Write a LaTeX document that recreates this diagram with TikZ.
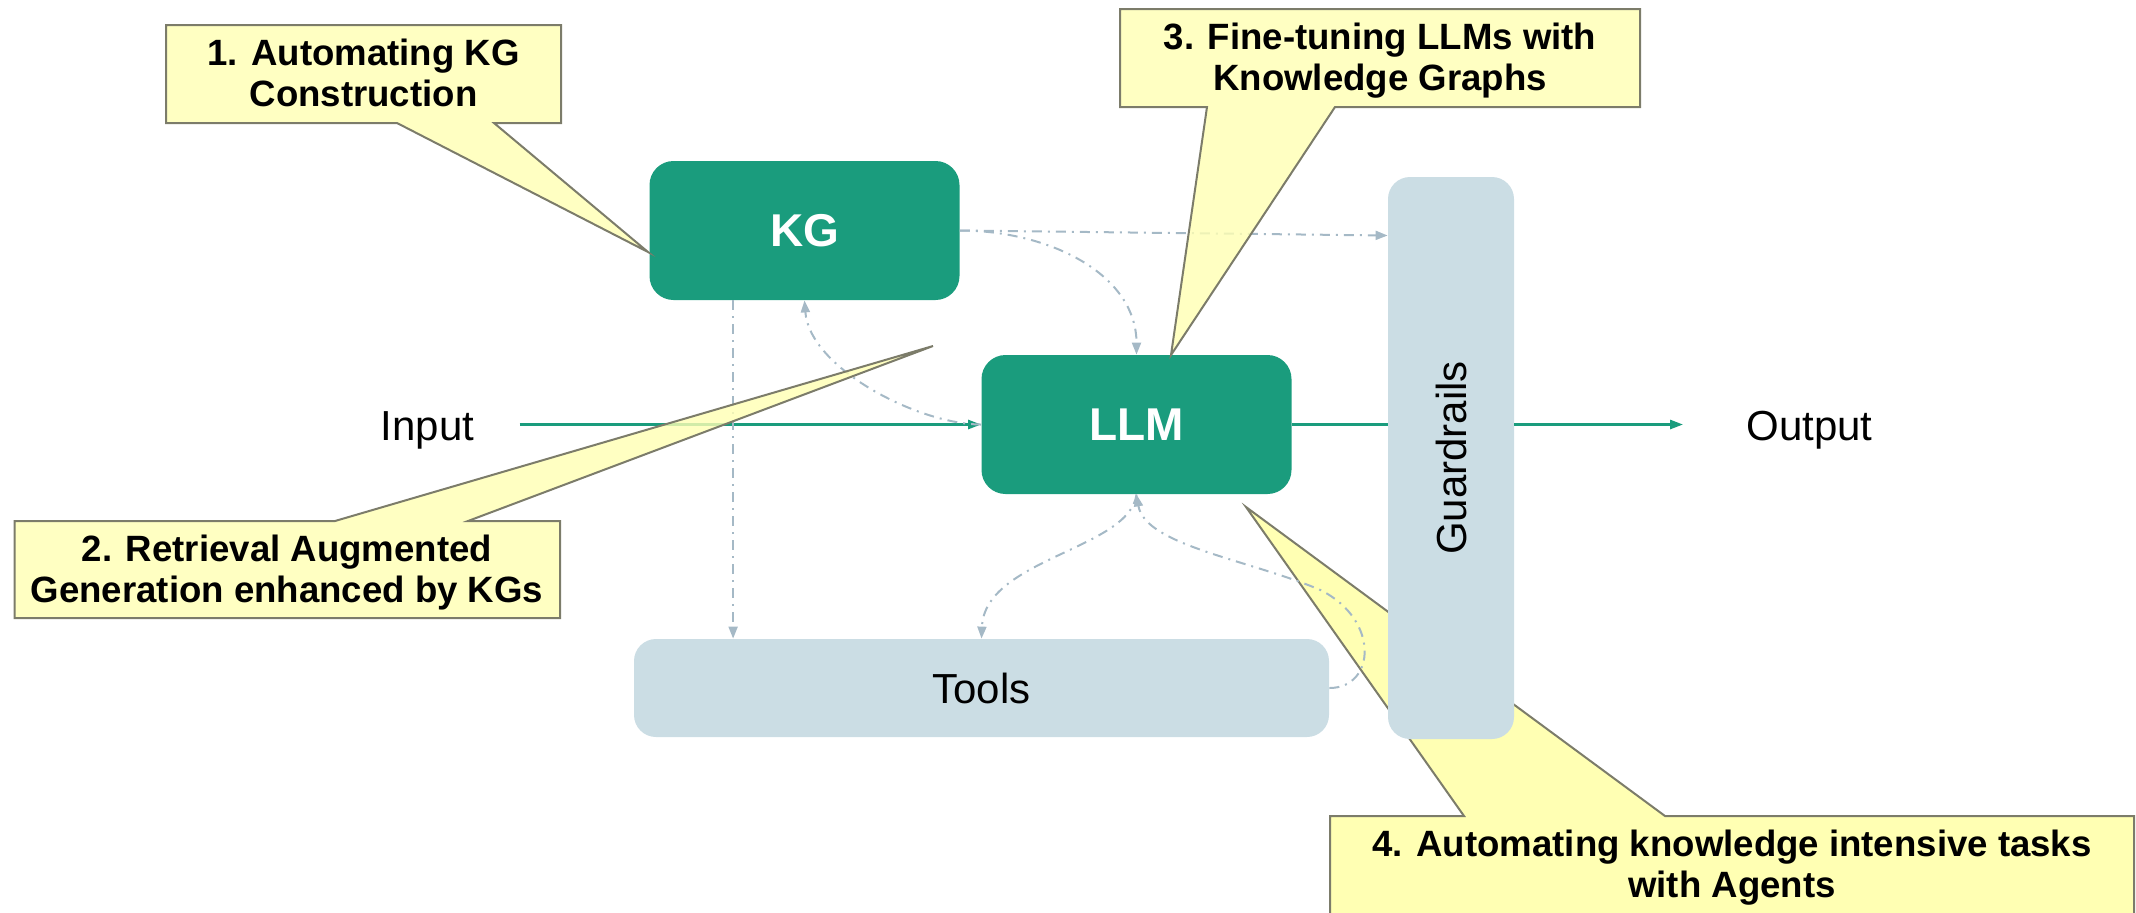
\documentclass[tikz,border=0pt]{standalone}
\usepackage{fontspec}
\setmainfont{Liberation Sans}
\usetikzlibrary{arrows.meta,calc}

\definecolor{kgteal}{HTML}{1A9C7D}
\definecolor{paleblue}{HTML}{CBDDE4}
\definecolor{noteyellow}{HTML}{FFFFB3}
\definecolor{noteedge}{HTML}{7C7C6A}
\definecolor{linkgray}{HTML}{A5B9C6}

% two centred lines whose baseline is the first line's
\newcommand{\notelines}[2]{\begin{tabular}[t]{@{}c@{}}#1\\#2\end{tabular}}

\begin{document}
\begin{tikzpicture}[x=0.5pt,y=-0.5pt,
  core/.style={fill=kgteal, rounded corners=12pt, text=white,
    font=\fontsize{23}{27}\selectfont\bfseries,
    minimum width=155pt, minimum height=69.5pt, inner sep=0pt},
  side/.style={fill=paleblue, rounded corners=11pt, inner sep=0pt},
  plain/.style={font=\fontsize{21}{25}\selectfont, inner sep=0pt},
  notetext/.style={font=\fontsize{18.3}{20.5}\selectfont\bfseries, inner sep=0pt, anchor=base},
  note/.style={fill=noteyellow, draw=noteedge, line width=1pt, line join=miter},
  mainline/.style={draw=kgteal, line width=1.3pt},
  mainflow/.style={mainline, -{Triangle[length=6.5pt,width=4.5pt]}},
  aux/.style={draw=linkgray, line width=1pt,
    dash pattern=on 5pt off 3pt on 1pt off 3pt,
    -{Triangle[length=6pt,width=4.5pt]}},
]
\useasboundingbox (0,0) rectangle (2136,912);
\clip (0,0) rectangle (2136,912);

% callout 4 sits behind the guardrails bar
\path[note] (1330,816) -- (1464,816) -- (1246,507) -- (1665,816) -- (2134,816)
  -- (2134,918) -- (1330,918) -- cycle;
\node[notetext] (n4) at (1732,856)
  {\notelines{4. Automating knowledge intensive tasks}{with Agents}};

% main blocks
\node[core] (kg) at (804.5,230.5) {KG};
\node[core] (llm) at (1136.5,424.5) {LLM};
\node[side, plain, minimum width=347.5pt, minimum height=49pt] (tools) at (981.5,688) {Tools};
\node[side, minimum width=63pt, minimum height=281pt] (guard) at (1451,458) {};
\node[plain, rotate=90] (guardlabel) at (guard.center) {Guardrails};

\node[plain, anchor=base] (input) at (427.5,440) {Input};
\node[plain, anchor=base] (output) at (1809.5,440) {Output};

% main data path
\draw[mainflow, shorten <=22.5pt] (llm.west -| input.east) -- (llm.west);
\draw[mainline] (llm.east) -- (llm.east -| guard.west);
\draw[mainflow, shorten >=31.5pt] (llm.east -| guard.east) -- (llm.east -| output.west);

% auxiliary links
\draw[aux] (kg.east) -- ($(kg.east -| guard.west)+(0,5)$);
\draw[aux] (kg.east) .. controls ($(kg.east)+(90,0)$) and ($(llm.north)+(0,-80)$) .. (llm.north);
\draw[aux] (llm.west) .. controls ($(llm.west)+(-62,0)$) and ($(kg.south)+(5,68)$) .. (kg.south);
\coordinate (kgdrop) at ($(kg.south west)+(84,0)$);
\draw[aux] (kgdrop) -- (kgdrop |- tools.north);
\draw[aux] (llm.south) .. controls ($(llm.south)+(-7,55)$) and ($(tools.north)+(3,-80)$) .. (tools.north);
\coordinate (bend) at ($(tools.east)+(-9,-98)$);
\draw[aux] (tools.east) .. controls ($(tools.east)+(46,0)$) and ($(bend)+(60,30)$) .. (bend)
  .. controls ($(bend)+(-70,-30)$) and ($(llm.south)+(8.5,51)$) .. (llm.south);

% callouts 1-3
\begin{scope}[fill opacity=0.8]
\path[note] (166,25) -- (561,25) -- (561,123) -- (494,123) -- (648,252) -- (397,123)
  -- (166,123) -- cycle;
\path[note] (14.5,521) -- (335,521) -- (933,346) -- (468,521) -- (560,521)
  -- (560,618) -- (14.5,618) -- cycle;
\path[note] (1120,9) -- (1640,9) -- (1640,107) -- (1335,107) -- (1171,355) -- (1207,107)
  -- (1120,107) -- cycle;
\end{scope}
\node[notetext] (n1) at (363.5,65) {\notelines{1. Automating KG}{Construction}};
\node[notetext] (n2) at (287,561) {\notelines{2. Retrieval Augmented}{Generation enhanced by KGs}};
\node[notetext] (n3) at (1380,49) {\notelines{3. Fine-tuning LLMs with}{Knowledge Graphs}};
\end{tikzpicture}
\end{document}
